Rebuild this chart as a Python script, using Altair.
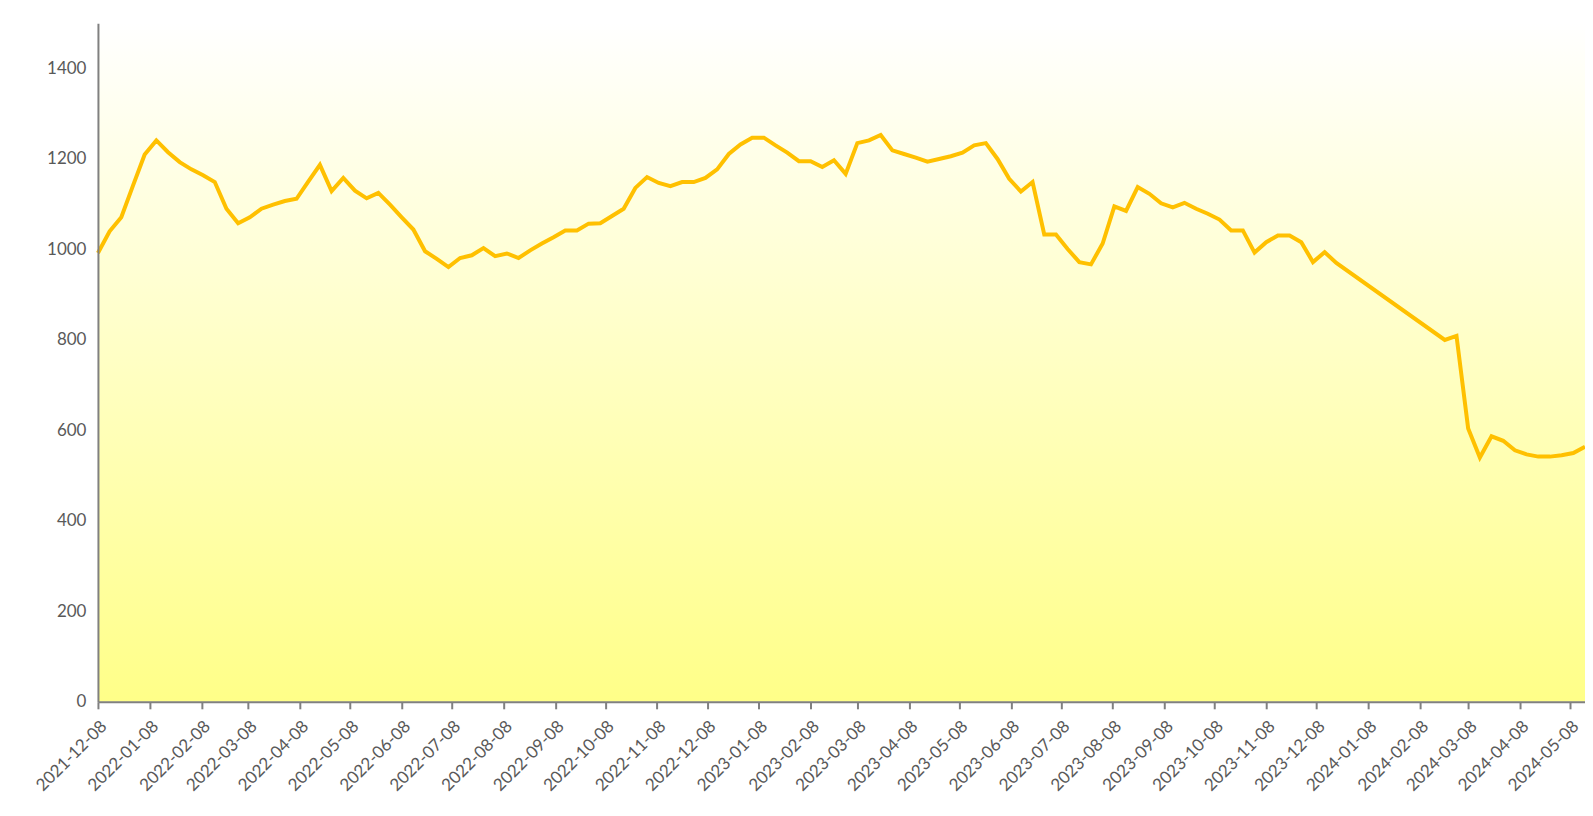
import altair as alt
import pandas as pd

# Weekly series (first segment) and after the data gap (second segment)
seg1_start = "2021-12-08"
seg1_values = [
    992, 1040, 1071, 1141, 1210, 1241, 1215, 1193, 1177, 1164,
    1149, 1090, 1058, 1071, 1090, 1099, 1107, 1112, 1150, 1187,
    1129, 1158, 1130, 1113, 1125, 1099, 1071, 1044, 996, 979,
    961, 981, 987, 1003, 985, 991, 981, 998, 1013, 1027,
    1042, 1042, 1057, 1058, 1074, 1090, 1136, 1160, 1147, 1140,
    1149, 1149, 1158, 1177, 1211, 1232, 1247, 1247, 1230, 1214,
    1195, 1195, 1182, 1197, 1167, 1235, 1241, 1253, 1219, 1211,
    1203, 1194, 1200, 1206, 1214, 1230, 1235, 1200, 1156, 1128,
    1149, 1033, 1033, 1001, 972, 967, 1013, 1095, 1085, 1138,
    1123, 1102, 1093, 1103, 1090, 1079, 1066, 1042, 1042, 993,
    1016, 1031, 1031, 1016, 972, 994, 970,
]
seg2_start = "2024-02-23"
seg2_values = [800, 809, 604, 540, 587, 577, 556, 547, 542, 542, 545, 550, 564]

x_start = (2021, 12, 8)
x_end = (2024, 5, 17)
tick_months = [(2021, 12)] + [(2022, m) for m in range(1, 13)] + \
              [(2023, m) for m in range(1, 13)] + [(2024, m) for m in range(1, 6)]
y_ticks = [0, 200, 400, 600, 800, 1000, 1200, 1400]

dates = list(pd.date_range(seg1_start, periods=len(seg1_values), freq="7D")) + \
        list(pd.date_range(seg2_start, periods=len(seg2_values), freq="7D"))
df = pd.DataFrame({"date": dates, "value": seg1_values + seg2_values})

W, H = 1488, 679
FONT = "Lato"
LABEL_COLOR = "#595959"
AXIS_COLOR = "#808080"

bg = alt.Chart(pd.DataFrame({"a": [0]})).mark_rect(
    fill=alt.Gradient(
        gradient="linear",
        stops=[alt.GradientStop(color="#FFFFFF", offset=0),
               alt.GradientStop(color="#FFFF88", offset=1)],
        x1=0, x2=0, y1=0, y2=1,
    )
).encode(x=alt.value(0), x2=alt.value(W), y=alt.value(0), y2=alt.value(H))

line = alt.Chart(df).mark_line(color="#FFC000", strokeWidth=4, strokeJoin="miter").encode(
    x=alt.X(
        "date:T",
        scale=alt.Scale(domain=[alt.DateTime(year=x_start[0], month=x_start[1], date=x_start[2]),
                                alt.DateTime(year=x_end[0], month=x_end[1], date=x_end[2])]),
        axis=alt.Axis(
            values=[alt.DateTime(year=y, month=m, date=8) for y, m in tick_months],
            format="%Y-%m-%d",
            labelAngle=-45,
            title=None,
            grid=False,
            domainColor=AXIS_COLOR,
            domainWidth=2,
            tickColor=AXIS_COLOR,
            tickWidth=2,
            tickSize=7,
            labelFont=FONT,
            labelFontSize=17,
            labelColor=LABEL_COLOR,
            labelPadding=9,
            labelOverlap=False,
            labelFlush=False,
            zindex=1,
        ),
    ),
    y=alt.Y(
        "value:Q",
        scale=alt.Scale(domain=[0, 1500], nice=False),
        axis=alt.Axis(
            values=y_ticks,
            format="d",
            title=None,
            grid=False,
            ticks=False,
            domainColor=AXIS_COLOR,
            domainWidth=2,
            labelFont=FONT,
            labelFontSize=17,
            labelColor=LABEL_COLOR,
            labelPadding=12,
            zindex=1,
        ),
    ),
)

chart = alt.layer(bg, line).properties(
    width=W,
    height=H,
    autosize=alt.AutoSizeParams(type="none"),
    padding={"left": 90, "top": 15, "right": 0, "bottom": 100},
).configure_view(stroke=None)

chart.save("out.html", embed_options={"renderer": "svg", "actions": False})
